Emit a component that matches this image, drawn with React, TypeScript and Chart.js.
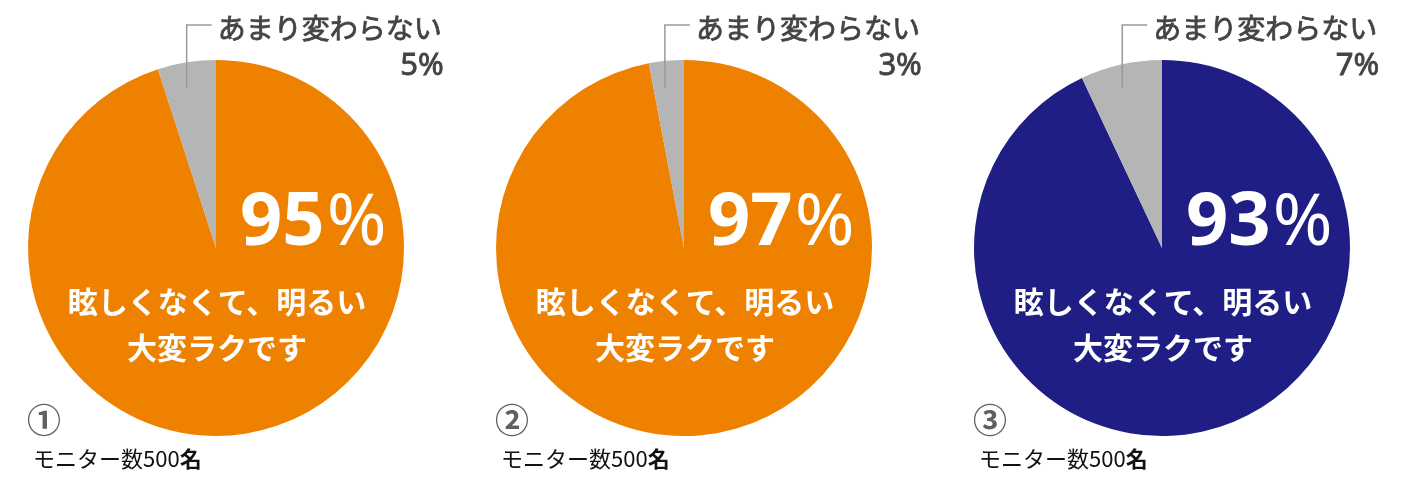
import React, { useRef, useEffect } from 'react';
import { Chart, registerables } from 'chart.js';

Chart.register(...registerables);

// chart values
const categories = ['眩しくなくて、明るい大変ラクです', 'あまり変わらない'];
const mainTextLines = ['眩しくなくて、明るい', '大変ラクです'];
const chartNumbers = ['①', '②', '③'];
const easyValues = [95, 97, 93];
const sameValues = [5, 3, 7];
const monitorText = 'モニター数500';
const monitorUnit = '名';

// look
const mainColors = ['#EE8200', '#EE8200', '#1E1E85'];
const grayColor = '#B5B5B5';
const pieCentersX = [216, 684, 1162];
const CANVAS_W = 470;
const CANVAS_H = 483;
const CJK = '"Noto Sans CJK JP", "Noto Sans", sans-serif';
const LATIN = '"Noto Sans", "Noto Sans CJK JP", sans-serif';

const pieLabels = {
    id: 'pieLabels',
    afterDatasetsDraw(chart: any, _args: any, opts: any) {
        const ctx = chart.ctx;
        const meta = chart.getDatasetMeta(0);
        const main = meta.data[0];
        const other = meta.data[1];
        const { x, y } = main.getProps(['x', 'y'], true);
        const values = chart.data.datasets[0].data;

        ctx.save();

        // leader line from the small slice
        const mid = (other.startAngle + other.endAngle) / 2;
        const dy = 160;
        const lx = x + (Math.cos(mid) * dy) / -Math.sin(mid) - 4;
        ctx.strokeStyle = '#9a9a9a';
        ctx.lineWidth = 1.5;
        ctx.beginPath();
        ctx.moveTo(lx, y - dy);
        ctx.lineTo(lx, y - 223);
        ctx.lineTo(lx + 25, y - 223);
        ctx.stroke();

        // small slice label
        ctx.fillStyle = '#444444';
        ctx.strokeStyle = '#444444';
        ctx.lineWidth = 0.8;
        ctx.font = `400 28px ${CJK}`;
        ctx.textAlign = 'left';
        ctx.textBaseline = 'middle';
        const labelX = lx + 31;
        ctx.fillText(chart.data.labels[1], labelX, y - 220);
        ctx.strokeText(chart.data.labels[1], labelX, y - 220);
        const labelW = ctx.measureText(chart.data.labels[1]).width;
        ctx.font = `400 31px ${LATIN}`;
        ctx.textAlign = 'right';
        ctx.textBaseline = 'alphabetic';
        ctx.fillText(`${values[1]}%`, labelX + labelW + 2, y - 173);
        ctx.strokeText(`${values[1]}%`, labelX + labelW + 2, y - 173);

        // big percentage
        ctx.fillStyle = '#ffffff';
        ctx.textAlign = 'left';
        ctx.font = `700 74px ${LATIN}`;
        const num = String(values[0]);
        ctx.fillText(num, x + 24, y - 3);
        const numW = ctx.measureText(num).width;
        ctx.font = `400 72px ${LATIN}`;
        ctx.fillText('%', x + 24 + numW + 2, y - 3);

        // white caption
        ctx.font = `700 30px ${CJK}`;
        ctx.textAlign = 'center';
        ctx.textBaseline = 'middle';
        mainTextLines.forEach((line, i) => {
            ctx.fillText(line, x + 1, y + 54 + i * 46);
        });

        // circled number
        ctx.fillStyle = '#606060';
        ctx.font = `700 34px ${CJK}`;
        ctx.fillText(opts.number, x - 172, y + 172);

        // monitor count
        ctx.fillStyle = '#111111';
        ctx.textAlign = 'left';
        ctx.font = `400 22px ${CJK}`;
        ctx.fillText(monitorText, x - 183, y + 211);
        const mW = ctx.measureText(monitorText).width;
        ctx.font = `700 22px ${CJK}`;
        ctx.fillText(monitorUnit, x - 183 + mW, y + 211);

        ctx.restore();
    }
};

interface PieProps {
    index: number;
}

const PieChart: React.FC<PieProps> = ({ index }) => {
    const canvasRef = useRef<HTMLCanvasElement>(null);

    useEffect(() => {
        if (!canvasRef.current) return;
        const ctx = canvasRef.current.getContext('2d');
        if (!ctx) return;
        const chart = new Chart(ctx, {
            type: 'pie',
            data: {
                labels: categories,
                datasets: [{
                    data: [easyValues[index], sameValues[index]],
                    backgroundColor: [mainColors[index], grayColor],
                    borderWidth: 0
                }]
            },
            options: {
                responsive: false,
                animation: false,
                layout: {
                    padding: { left: 28, right: 66, top: 60, bottom: 47 }
                },
                plugins: {
                    legend: { display: false },
                    tooltip: { enabled: false },
                    pieLabels: { number: chartNumbers[index] }
                } as any
            },
            plugins: [pieLabels]
        });
        return () => {
            chart.destroy();
        };
    }, [index]);

    return (
        <canvas
            ref={canvasRef}
            width={CANVAS_W}
            height={CANVAS_H}
            style={{ position: 'absolute', left: pieCentersX[index] - 216, top: 0 }}
        />
    );
};

export default function App() {
    return (
        <div style={{ position: 'absolute', left: 0, top: 0, width: 1412, height: 483, overflow: 'hidden', background: '#fff' }}>
            {easyValues.map((_, i) => (
                <PieChart key={i} index={i} />
            ))}
        </div>
    );
}
